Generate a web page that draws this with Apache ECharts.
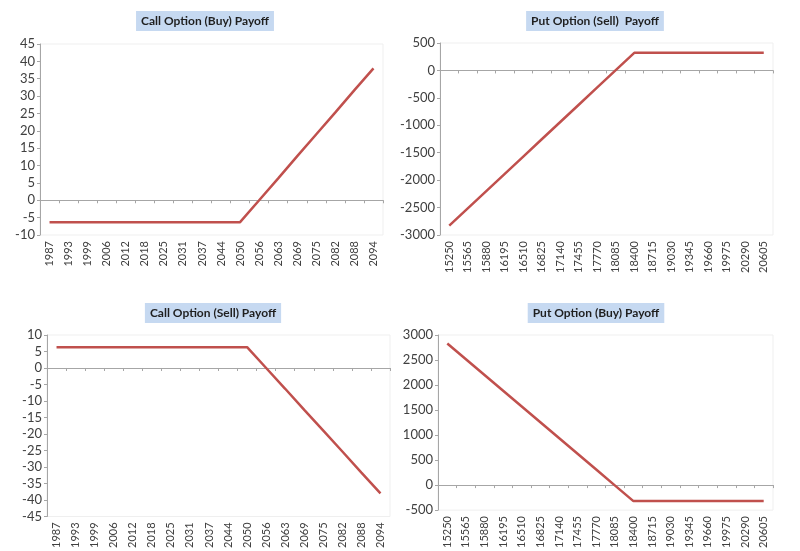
<!DOCTYPE html>
<html>
<head>
<meta charset="utf-8">
<script src="https://cdn.jsdelivr.net/npm/echarts@6/dist/echarts.min.js"></script>
<style>html,body{margin:0;padding:0;background:#fff;}#c{width:800px;height:551px;}</style>
</head>
<body>
<div id="c"></div>
<script>
// Categories (tick labels)
var callStrikes = ['1987','1993','1999','2006','2012','2018','2025','2031','2037','2044','2050','2056','2063','2069','2075','2082','2088','2094'];
var putStrikes = ['15250','15565','15880','16195','16510','16825','17140','17455','17770','18085','18400','18715','19030','19345','19660','19975','20290','20605'];

// Series values
var callBuy  = [-6.3,-6.3,-6.3,-6.3,-6.3,-6.3,-6.3,-6.3,-6.3,-6.3,-6.3,0,6.3,12.7,19,25.3,31.7,38];
var putSell  = [-2830,-2515,-2200,-1885,-1570,-1255,-940,-625,-310,5,320,320,320,320,320,320,320,320];
var callSell = [6.3,6.3,6.3,6.3,6.3,6.3,6.3,6.3,6.3,6.3,6.3,0,-6.3,-12.7,-19,-25.3,-31.7,-38];
var putBuy   = [2830,2515,2200,1885,1570,1255,940,625,310,-5,-320,-320,-320,-320,-320,-320,-320,-320];

var titles = ['Call Option (Buy) Payoff','Put Option (Sell)  Payoff','Call Option (Sell) Payoff','Put Option (Buy) Payoff'];

var chart = echarts.init(document.getElementById('c'));
var FONT = 'Lato';
var lineColor = '#c0504d';
var axisColor = '#a6a6a6';
var labelColor = '#404040';

var grids = [
  {left:40, top:44, width:343, height:191},
  {left:440, top:43, width:333, height:192},
  {left:47, top:335, width:343, height:192},
  {left:438, top:335, width:335, height:188}
];
var titlePos = [[200,11],[590,11],[208,303],[591,303]];
var yRanges = [[-10,45,5],[-3000,500,500],[-45,10,5],[-500,3000,500]];
var cats = [callStrikes, putStrikes, callStrikes, putStrikes];
var datas = [callBuy, putSell, callSell, putBuy];

var option = {
  animation:false,
  backgroundColor:'#ffffff',
  title: titles.map(function(t,i){
    return {
      text:t, left:titlePos[i][0], top:titlePos[i][1], textAlign:'center',
      backgroundColor:'#c6d9f1', padding:[4,5],
      textStyle:{fontFamily:FONT, fontSize:12, fontWeight:'bold', color:'#1f1f1f'}
    };
  }),
  grid: grids.map(function(g){
    return Object.assign({show:true, borderColor:'#efefef', borderWidth:1, backgroundColor:'transparent'}, g);
  }),
  xAxis: cats.map(function(c,i){
    return {
      type:'category', gridIndex:i, data:c, boundaryGap:true,
      axisLine:{onZero:true, lineStyle:{color:axisColor, width:1}},
      axisTick:{show:true, inside:false, length:3, lineStyle:{color:axisColor}},
      axisLabel:{rotate:90, interval:0, fontFamily:FONT, fontSize:11, color:labelColor, margin:6},
      splitLine:{show:false}
    };
  }),
  yAxis: yRanges.map(function(r,i){
    return {
      type:'value', gridIndex:i, min:r[0], max:r[1], interval:r[2],
      axisLine:{show:true, onZero:false, lineStyle:{color:axisColor, width:1}},
      axisTick:{show:true, length:3, lineStyle:{color:axisColor}},
      axisLabel:{fontFamily:FONT, fontSize:13, color:labelColor, margin:5,
                 formatter:function(v){return String(v);}},
      splitLine:{show:false}
    };
  }),
  series: datas.map(function(d,i){
    return {
      type:'line', xAxisIndex:i, yAxisIndex:i, data:d, symbol:'none',
      lineStyle:{color:lineColor, width:2.5}
    };
  })
};
chart.setOption(option);
</script>
</body>
</html>
